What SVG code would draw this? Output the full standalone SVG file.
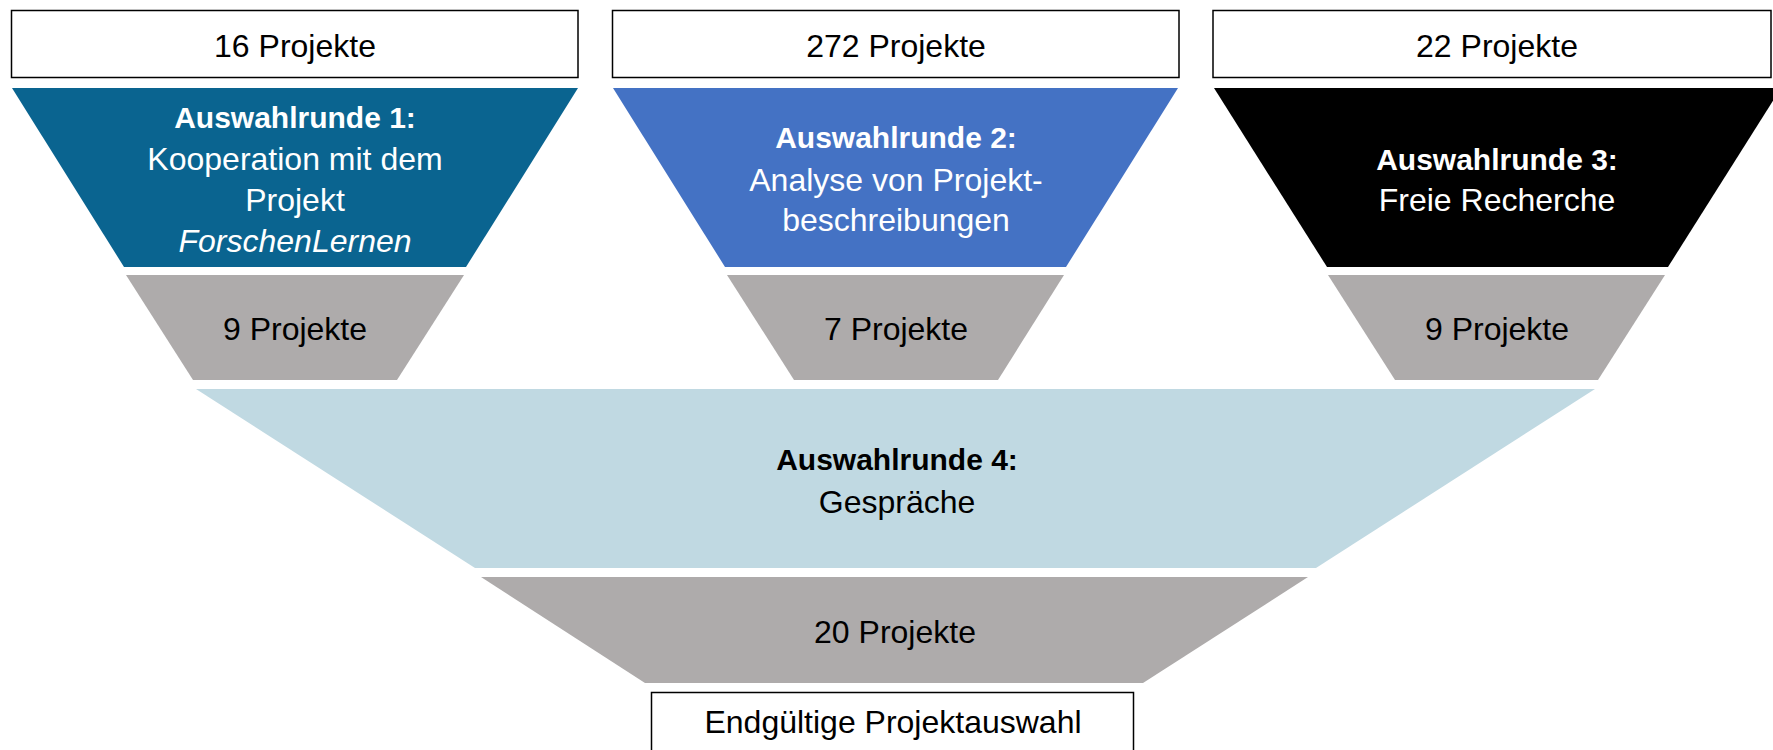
<svg xmlns="http://www.w3.org/2000/svg" width="1773" height="750" viewBox="0 0 1773 750">
<style>
.box{fill:#fff;stroke:#000;stroke-width:1.5}
.t{font-family:"Liberation Sans",Arial,sans-serif;font-size:32px;text-anchor:middle}
.b{font-weight:bold;font-size:30px}
.i{font-style:italic}
.w{fill:#fff}
.k{fill:#000}
.gray{fill:#AEABAB}
</style>
<rect width="1773" height="750" fill="#fff"/>
<g id="box16"><rect class="box" x="11.5" y="10.5" width="566.5" height="67"/><text class="t k" x="295" y="57">16 Projekte</text></g>
<g id="box272"><rect class="box" x="612.5" y="10.5" width="566.5" height="67"/><text class="t k" x="896" y="57">272 Projekte</text></g>
<g id="box22"><rect class="box" x="1213" y="10.5" width="558" height="67"/><text class="t k" x="1497" y="57">22 Projekte</text></g>

<g id="runde1"><polygon points="12,88 578,88 466,267 124,267" fill="#0A6490"/>
<text class="t w b" x="295" y="128">Auswahlrunde 1:</text>
<text class="t w" x="295" y="170">Kooperation mit dem</text>
<text class="t w" x="295" y="211">Projekt</text>
<text class="t w i" x="295" y="252">ForschenLernen</text></g>
<g id="runde2"><polygon points="613,88 1178,88 1066,267 725,267" fill="#4472C4"/>
<text class="t w b" x="896" y="148">Auswahlrunde 2:</text>
<text class="t w" x="896" y="191">Analyse von Projekt-</text>
<text class="t w" x="896" y="231">beschreibungen</text></g>
<g id="runde3"><polygon points="1214,88 1781,88 1668,267 1327,267" fill="#000"/>
<text class="t w b" x="1497" y="170">Auswahlrunde 3:</text>
<text class="t w" x="1497" y="211">Freie Recherche</text></g>

<g id="res1"><polygon class="gray" points="126,275 464,275 397,380 193,380"/><text class="t k" x="295" y="340">9 Projekte</text></g>
<g id="res2"><polygon class="gray" points="727,275 1064,275 998,380 794,380"/><text class="t k" x="896" y="340">7 Projekte</text></g>
<g id="res3"><polygon class="gray" points="1328,275 1665,275 1598,380 1395,380"/><text class="t k" x="1497" y="340">9 Projekte</text></g>

<g id="runde4"><polygon points="196,389 1595,389 1316,568 475,568" fill="#C0D9E2"/>
<text class="t k b" x="897" y="470">Auswahlrunde 4:</text>
<text class="t k" x="897" y="513">Gespräche</text></g>
<g id="res4"><polygon class="gray" points="481,577 1308,577 1143,683 645,683"/><text class="t k" x="895" y="643">20 Projekte</text></g>
<g id="final"><rect class="box" x="651.5" y="692.5" width="482" height="70"/><text class="t k" x="893" y="733">Endgültige Projektauswahl</text></g>
<g id="connectors"></g>
</svg>
